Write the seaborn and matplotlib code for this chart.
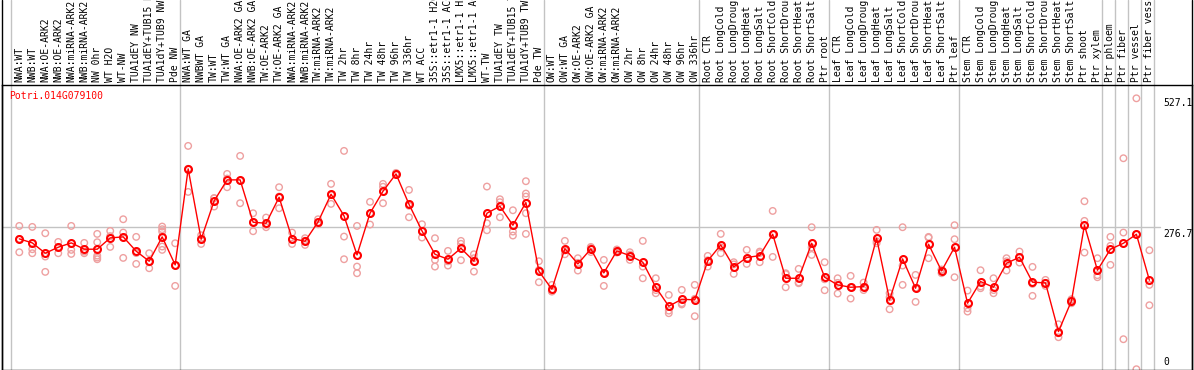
import numpy as np
import pandas as pd
import matplotlib
matplotlib.use("Agg")
import matplotlib.pyplot as plt
import seaborn as sns
from matplotlib.lines import Line2D

gene = "Potri.014G079100"

categories = [
    "NWA:WT", "NWB:WT", "NWA:OE-ARK2", "NWB:OE-ARK2", "NWA:miRNA-ARK2", "NWB:miRNA-ARK2",
    "NW 0hr", "WT H2O", "WT-NW", "TUA1dEY NW", "TUA1dEY+TUB15 NW", "TUA1dY+TUB9 NW", "Pde NW",
    "NWA:WT GA", "NWBWT GA", "TW:WT", "TW:WT GA", "NWA:OE-ARK2 GA", "NWB:OE-ARK2 GA",
    "TW:OE-ARK2", "TW:OE-ARK2 GA", "NWA:miRNA-ARK2", "NWB:miRNA-ARK2", "TW:miRNA-ARK2",
    "TW:miRNA-ARK2", "TW 2hr", "TW 8hr", "TW 24hr", "TW 48hr", "TW 96hr", "TW 336hr", "WT ACC",
    "35S::etr1-1 H2O", "35S::etr1-1 ACC", "LMX5::etr1-1 H2O", "LMX5::etr1-1 ACC", "WT-TW",
    "TUA1dEY TW", "TUA1dEY+TUB15 TW", "TUA1dY+TUB9 TW", "Pde TW",
    "OW:WT", "OW:WT GA", "OW:OE-ARK2", "OW:OE-ARK2 GA", "OW:miRNA-ARK2", "OW:miRNA-ARK2",
    "OW 2hr", "OW 8hr", "OW 24hr", "OW 48hr", "OW 96hr", "OW 336hr",
    "Root CTR", "Root LongCold", "Root LongDrought", "Root LongHeat", "Root LongSalt",
    "Root ShortCold", "Root ShortDrought", "Root ShortHeat", "Root ShortSalt", "Ptr root",
    "Leaf CTR", "Leaf LongCold", "Leaf LongDrought", "Leaf LongHeat", "Leaf LongSalt",
    "Leaf ShortCold", "Leaf ShortDrought", "Leaf ShortHeat", "Leaf ShortSalt", "Ptr leaf",
    "Stem CTR", "Stem LongCold", "Stem LongDrought", "Stem LongHeat", "Stem LongSalt",
    "Stem ShortCold", "Stem ShortDrought", "Stem ShortHeat", "Stem ShortSalt", "Ptr shoot",
    "Ptr xylem", "Ptr phloem", "Ptr fiber", "Ptr vessel", "Ptr fiber vessel",
]

means = [
    253.6, 245.8, 225.7, 237.4, 245.8, 233.5, 233.5, 255.5, 257.5, 229.6, 210.1, 257.5, 203.0,
    389.8, 252.9, 327.5, 368.4, 368.4, 286.0, 284.0, 334.6, 254.2, 249.0, 286.6, 340.5, 298.3,
    222.4, 303.5, 346.3, 380.0, 321.0, 269.1, 223.7, 214.0, 235.4, 210.1, 303.5, 317.1, 280.2,
    324.3, 190.7,
    155.6, 234.8, 204.9, 234.1, 187.4, 230.2, 221.1, 208.2, 159.5, 122.6, 136.2, 134.9,
    210.8, 241.9, 199.1, 217.3, 221.1, 262.6, 177.0, 177.0, 245.1, 179.0,
    164.1, 159.5, 160.8, 254.9, 134.9, 214.7, 157.6, 243.2, 191.3, 237.4,
    128.4, 170.6, 159.5, 206.2, 217.9, 169.3, 168.0, 73.3, 132.9, 280.2,
    192.6, 233.5, 245.1, 262.6, 173.2,
]

replicates = [
    [278.8, 253.6, 227.6], [276.9, 233.5, 225.7], [264.6, 219.2, 189.4], [247.7, 237.4, 225.7],
    [278.8, 232.2, 224.4], [245.8, 225.7, 229.0], [263.3, 247.1, 221.1, 217.3, 214.0],
    [269.1, 238.0, 259.0], [291.8, 265.9, 216.6], [257.5, 204.9, 226.0], [225.7, 196.5, 208.0],
    [277.6, 272.4, 267.8, 238.7, 232.2], [245.1, 162.1, 202.0],
    [434.5, 345.0, 390.0], [260.7, 243.8, 254.0], [332.7, 316.5, 333.0], [380.0, 354.1, 371.0],
    [415.0, 323.0, 367.0], [303.5, 268.5, 286.0], [295.1, 276.3, 281.0], [354.1, 313.2, 336.0],
    [265.9, 243.8, 253.0], [254.9, 241.9, 250.0], [291.8, 282.0, 286.0], [360.6, 321.7, 339.0],
    [424.8, 258.1, 214.0], [278.8, 199.7, 186.8], [325.6, 281.5, 303.0], [360.6, 323.0, 355.0],
    [382.0, 378.0, 380.0], [348.9, 295.7, 318.0], [282.1, 256.2, 269.0], [254.9, 212.7, 199.7],
    [230.2, 201.7, 210.0], [249.7, 212.1, 244.0], [223.7, 190.0, 216.0],
    [355.4, 284.0, 270.4], [330.7, 295.7, 325.0], [309.3, 267.8, 260.1],
    [365.8, 341.8, 335.9, 303.5, 263.3], [210.1, 169.3, 193.0],
    [164.1, 152.0, 151.0], [249.7, 223.7, 231.0], [216.0, 192.0, 207.0], [236.0, 228.0, 238.0],
    [212.7, 162.1, 187.0], [227.0, 233.0, 230.0], [227.6, 212.7, 223.0], [249.7, 199.7, 177.0],
    [177.0, 147.9, 154.0], [144.6, 109.0, 114.0], [154.3, 128.4, 126.0], [164.1, 103.1, 137.0],
    [220.5, 199.7, 212.0], [263.3, 225.7, 237.0], [208.2, 185.5, 204.0], [232.2, 204.9, 215.0],
    [228.9, 208.2, 226.0], [308.0, 218.5, 262.0], [186.8, 159.5, 185.0], [195.2, 167.3, 169.0],
    [276.3, 222.4, 237.0], [208.2, 153.7, 175.0],
    [177.0, 147.2, 168.0], [181.6, 137.5, 159.5], [168.6, 160.0, 154.0], [271.1, 245.1, 249.0],
    [147.9, 116.7, 140.0], [276.3, 201.7, 164.1], [183.5, 131.0, 158.0], [257.5, 216.0, 256.0],
    [193.3, 186.8, 194.0], [280.2, 252.9, 179.0],
    [153.0, 118.7, 112.2], [192.6, 157.6, 161.0], [177.0, 147.9, 154.0], [216.0, 192.0, 210.0],
    [228.9, 207.5, 217.0], [199.1, 142.7, 166.0], [173.8, 162.1, 168.0], [87.5, 62.3, 70.0],
    [136.2, 128.4, 134.0], [326.8, 288.6, 227.0],
    [216.0, 179.0, 183.0], [257.5, 203.0, 240.0], [410.5, 265.9, 58.4], [527.1, 0.0, 262.6],
    [231.5, 164.1, 124.5],
]

group_ends = [12, 40, 52, 62, 72, 83, 84, 85, 86, 87]
ref_value = 276.7
max_value = 527.1

# ---------------------------------------------------------------------------
mean_df = pd.DataFrame({"idx": np.arange(len(categories)), "value": means})
rep_df = pd.DataFrame(
    [(i, v) for i, reps in enumerate(replicates) for v in reps], columns=["idx", "value"]
)

sns.set_theme(style="white")
plt.rcParams["font.family"] = ["DejaVu Sans Mono"]

W, H = 1194, 370
fig = plt.figure(figsize=(W / 100, H / 100), dpi=100)
top_px = 85
ax = fig.add_axes([1.5 / W, 0.0, (1192 - 1.5) / W, (H - top_px) / H])

grey = "#c3c3c3"
red = "#ff0000"
pink = "#eea0a0"

# grid / separators
ax.axhline(ref_value, xmin=0, xmax=(1160 - 1.5) / (1192 - 1.5), color=grey, lw=1.0, zorder=0)
sep_positions = [-0.64] + [e + 0.36 for e in group_ends]
for xs in sep_positions:
    ax.axvline(xs, ymin=0, ymax=H / (H - top_px), color=grey, lw=1.0, zorder=0, clip_on=False)

# replicates
sns.scatterplot(data=rep_df, x="idx", y="value", ax=ax, marker="o", s=22,
                color=pink, linewidth=1.0, zorder=2, legend=False)
coll = ax.collections[-1]
coll.set_facecolor("none")
coll.set_edgecolor(pink)

# means
sns.lineplot(data=mean_df, x="idx", y="value", ax=ax, color=red, lw=1.0,
             marker="o", markersize=5, markerfacecolor="none", markeredgecolor=red,
             markeredgewidth=1.5, zorder=3, legend=False)

n = len(categories)
ax.set_xlim(-1.37, 90.28)
ax.set_ylim(-1.5, 553)

ax.xaxis.tick_top()
ax.set_xticks(range(n))
ax.set_xticklabels(categories, rotation=90, fontsize=7, color="black")
ax.tick_params(axis="x", length=0, pad=2)
ax.set_yticks([])
ax.set_xlabel("")
ax.set_ylabel("")

for side in ["left", "right", "top", "bottom"]:
    ax.spines[side].set_visible(True)
    ax.spines[side].set_color("black")
    ax.spines[side].set_linewidth(1.0)

# full-height frame lines on left and right
fig.add_artist(Line2D([1.5 / W, 1.5 / W], [0, 1], color="black", lw=1.0))
fig.add_artist(Line2D([1192 / W, 1192 / W], [0, 1], color="black", lw=1.0))

# value labels on the right
xlab = 1163 / W
fig.text(xlab, (H - 369.3 + max_value * 0.514) / H, f"{max_value}", fontsize=7,
         va="top", ha="left", color="black")
fig.text(xlab, (H - 369.3 + ref_value * 0.514) / H - 2 / H, f"{ref_value}", fontsize=7,
         va="top", ha="left", color="black")
fig.text(xlab, 3 / H, "0", fontsize=7, va="bottom", ha="left", color="black")

# gene label
fig.text(9 / W, 1 - 91 / H, gene, fontsize=7, color=red, va="top", ha="left")

fig.savefig("out.png", dpi=100)
